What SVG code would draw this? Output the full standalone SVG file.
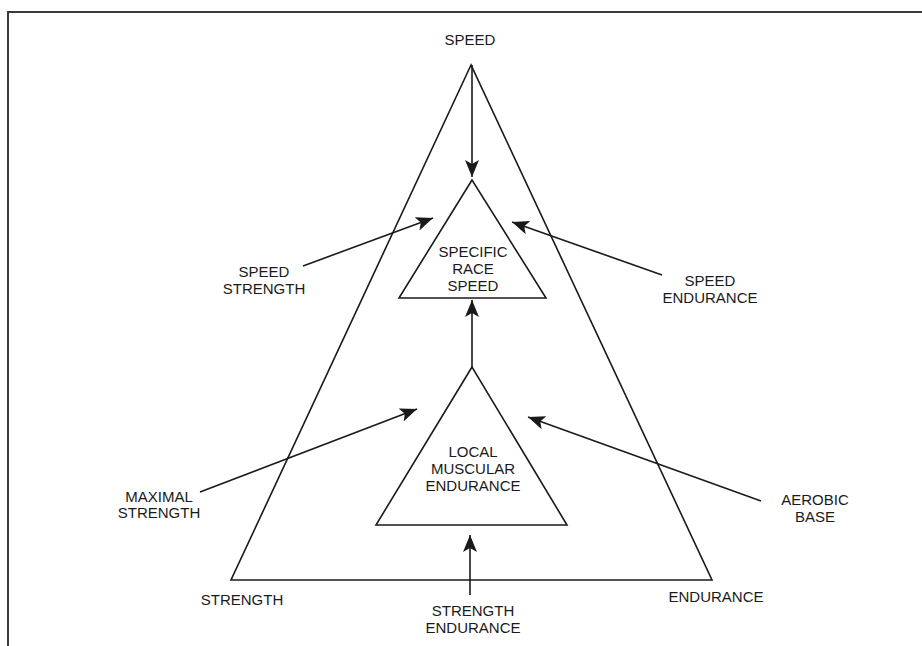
<svg xmlns="http://www.w3.org/2000/svg" width="922" height="646" viewBox="0 0 922 646">
<style>
.frame{fill:none;stroke:#3a3a3a;stroke-width:2}
.tri{fill:none;stroke:#1a1a1a;stroke-width:1.6;stroke-linejoin:miter}
.con{fill:none;stroke:#1a1a1a;stroke-width:1.6}
text{font-family:"Liberation Sans",Arial,sans-serif;font-size:15px;fill:#1a1a1a;text-anchor:middle}
</style>
<defs>
<marker id="ah" markerUnits="userSpaceOnUse" markerWidth="18" markerHeight="16" viewBox="0 0 18 16" refX="17" refY="8" orient="auto">
<path d="M0,1 L17,8 L0,15 L4,8 z" fill="#1a1a1a"/>
</marker>
</defs>
<rect width="922" height="646" fill="#fff"/>
<path class="frame" d="M8,646 L8,12 L922,12"/>
<g id="outer">
<polygon class="tri" points="471,65 231,580 712,580"/>
<text x="470" y="45">SPEED</text>
<text x="242" y="605">STRENGTH</text>
<text x="716" y="602">ENDURANCE</text>
</g>
<g id="specific-race-speed">
<polygon class="tri" points="472,180 399,298 546,298"/>
<text x="473" y="257">SPECIFIC</text>
<text x="473" y="274">RACE</text>
<text x="473" y="291">SPEED</text>
</g>
<g id="local-muscular-endurance">
<polygon class="tri" points="472,367 376,525 567,525"/>
<text x="473" y="457">LOCAL</text>
<text x="473" y="474">MUSCULAR</text>
<text x="473" y="491">ENDURANCE</text>
</g>
<g id="speed-strength">
<text x="264" y="277">SPEED</text>
<text x="264" y="294">STRENGTH</text>
</g>
<g id="speed-endurance">
<text x="710" y="286">SPEED</text>
<text x="710" y="303">ENDURANCE</text>
</g>
<g id="maximal-strength">
<text x="159" y="502">MAXIMAL</text>
<text x="159" y="518">STRENGTH</text>
</g>
<g id="aerobic-base">
<text x="815" y="505">AEROBIC</text>
<text x="815" y="522">BASE</text>
</g>
<g id="strength-endurance">
<text x="473" y="616">STRENGTH</text>
<text x="473" y="633">ENDURANCE</text>
</g>
<g id="connectors">
<line class="con" x1="472" y1="65" x2="472" y2="177" marker-end="url(#ah)"/>
<line class="con" x1="303" y1="266" x2="433" y2="218" marker-end="url(#ah)"/>
<line class="con" x1="662" y1="275" x2="512" y2="222" marker-end="url(#ah)"/>
<line class="con" x1="472" y1="367" x2="472" y2="300" marker-end="url(#ah)"/>
<line class="con" x1="200" y1="492" x2="417" y2="409" marker-end="url(#ah)"/>
<line class="con" x1="761" y1="501" x2="528" y2="417" marker-end="url(#ah)"/>
<line class="con" x1="470" y1="595" x2="470" y2="535" marker-end="url(#ah)"/>
</g>
</svg>
